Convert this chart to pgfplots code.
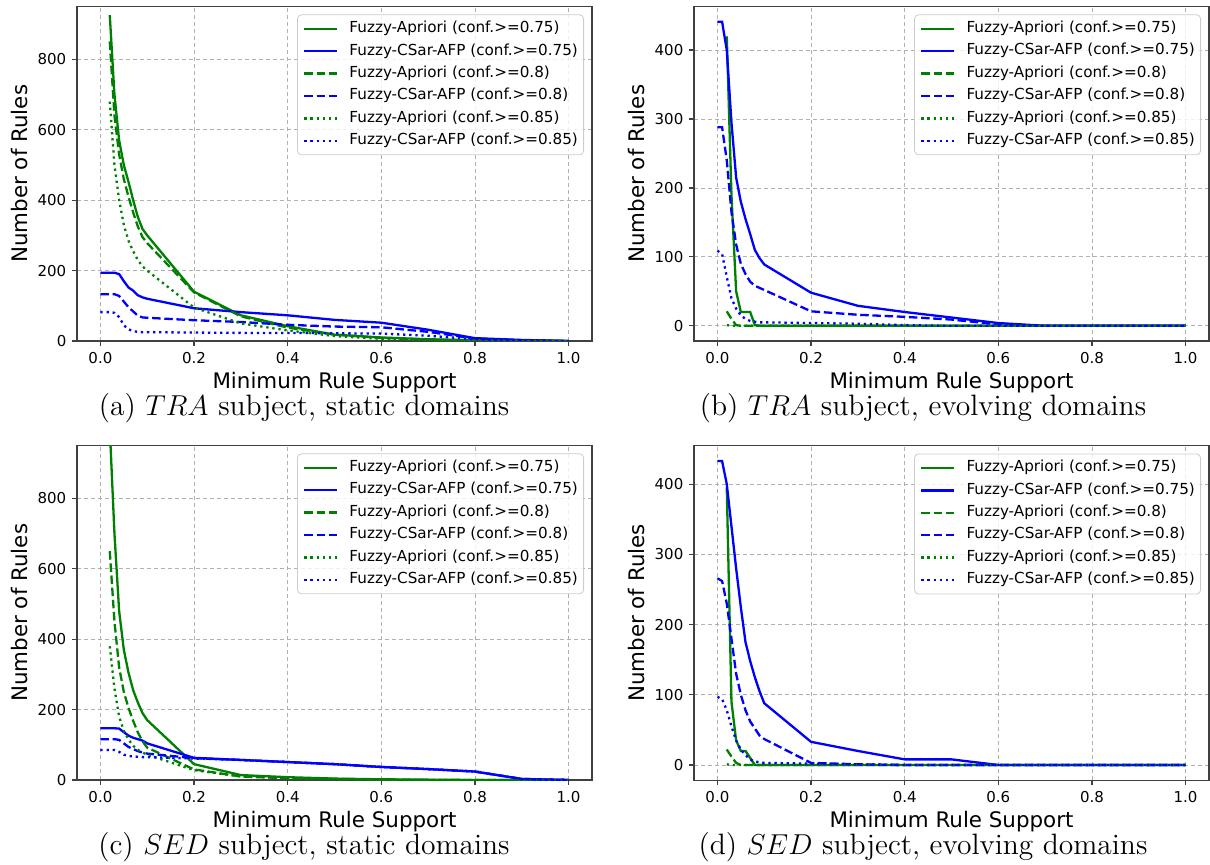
\documentclass[border=0pt]{standalone}
\usepackage{fontspec}
\usepackage{pgfplots}
\pgfplotsset{compat=1.18}
\newfontfamily\dejavu{DejaVu Sans}
\definecolor{mgreen}{HTML}{008000}
\definecolor{mblue}{HTML}{0000FF}
\definecolor{mgrid}{HTML}{B0B0B0}
\newcommand\tickfont{\dejavu\fontsize{7.5pt}{9pt}\selectfont}
\newcommand\legfont{\dejavu\fontsize{7.6pt}{9pt}\selectfont}
\newcommand\labfont{\dejavu\fontsize{10.7pt}{13pt}\selectfont}
\newcommand\capfont{\fontsize{14.75pt}{17pt}\selectfont}
\pgfplotsset{
  legend image code/.code={\draw[#1] (0pt,0pt) -- (16.5pt,0pt);},
  myax/.style={
    scale only axis, width=257.5pt, height=167.2pt,
    xmin=-0.05, xmax=1.05,
    xtick={0,0.2,0.4,0.6,0.8,1.0},
    /pgf/number format/assume math mode=true,
    grid=major,
    major grid style={color=mgrid, line width=0.4pt, dash pattern=on 2.2pt off 1.3pt},
    axis line style={black!75, line width=0.6pt},
    tick align=outside, major tick length=2.6pt,
    every tick/.style={black!75, line width=0.6pt},
    xtick pos=lower, ytick pos=left,
    x tick label style={font=\tickfont, inner sep=2.65pt, /pgf/number format/fixed, /pgf/number format/fixed zerofill, /pgf/number format/precision=1},
    y tick label style={font=\tickfont, inner sep=2.55pt},
    xlabel={Minimum Rule Support}, ylabel={Number of Rules},
    label style={font=\labfont},
    xlabel style={at={(axis description cs:0.5,0)}, anchor=base, yshift=-23.8pt},
    ylabel style={at={(axis description cs:-0.1107,0.5)}, anchor=center},
    legend cell align=left,
    legend style={at={(1,1)}, anchor=north east, xshift=-4pt, yshift=-3.9pt,
      draw=black!20, fill=white, fill opacity=0.8, text opacity=1, rounded corners=2pt,
      font=\legfont, inner xsep=2.85pt, inner ysep=3.2pt, row sep=3.6pt,
      nodes={inner sep=0pt, text height=5.7pt, text depth=1.9pt},
      /tikz/every odd column/.append style={column sep=5.5pt}},
    every axis plot/.append style={line width=1.15pt},
  },
  gs/.style={mgreen, solid},
  bs/.style={mblue, solid},
  gd/.style={mgreen, dash pattern=on 4.25pt off 1.84pt},
  bd/.style={mblue, dash pattern=on 4.25pt off 1.84pt},
  go/.style={mgreen, dash pattern=on 1.15pt off 1.9pt},
  bo/.style={mblue, dash pattern=on 1.15pt off 1.9pt},
}
\begin{document}
\begin{tikzpicture}
\useasboundingbox (0,0) rectangle (605pt,-432.5pt);
% (a)
\begin{axis}[myax, at={(38.5pt,-170.5pt)}, anchor=south west, ymin=0, ymax=950, ytick={0,200,400,600,800}]
\addplot[gs] coordinates {(0.02,926)(0.03,700)(0.04,570)(0.05,500)(0.06,452)(0.07,400)(0.08,352)(0.09,318)(0.1,300)(0.2,140)(0.3,73)(0.4,42)(0.5,18)(0.6,10)(0.7,5)(0.8,2)(0.9,1)(1.0,0)};
\addplot[bs] coordinates {(0,194)(0.01,194)(0.02,194)(0.03,194)(0.04,190)(0.05,170)(0.06,152)(0.07,143)(0.08,130)(0.09,124)(0.1,120)(0.2,93)(0.3,82)(0.4,73)(0.5,60)(0.6,52)(0.7,32)(0.8,8)(0.9,3)(1.0,0)};
\addplot[gd] coordinates {(0.02,851)(0.03,640)(0.04,530)(0.05,460)(0.06,410)(0.07,365)(0.08,325)(0.09,295)(0.1,278)(0.2,138)(0.3,70)(0.4,38)(0.5,18)(0.6,9)(0.7,4)(0.8,2)(0.9,1)(1.0,0)};
\addplot[bd] coordinates {(0,133)(0.01,133)(0.02,133)(0.03,133)(0.04,128)(0.05,112)(0.06,96)(0.07,84)(0.08,72)(0.09,67)(0.1,66)(0.2,59)(0.3,54)(0.4,46)(0.5,41)(0.6,39)(0.7,26)(0.8,7)(0.9,2)(1.0,0)};
\addplot[go] coordinates {(0.02,680)(0.03,500)(0.04,400)(0.05,330)(0.06,285)(0.07,255)(0.08,230)(0.09,212)(0.1,200)(0.2,95)(0.3,50)(0.4,30)(0.5,14)(0.6,6)(0.7,3)(0.8,1)(0.9,0)(1.0,0)};
\addplot[bo] coordinates {(0,82)(0.01,82)(0.02,82)(0.03,80)(0.04,68)(0.05,45)(0.06,33)(0.07,28)(0.08,26)(0.09,25)(0.1,25)(0.2,24)(0.3,23)(0.4,23)(0.5,22)(0.6,21)(0.7,15)(0.8,5)(0.9,1)(1.0,0)};
\legend{Fuzzy-Apriori (conf.>=0.75),Fuzzy-CSar-AFP (conf.>=0.75),Fuzzy-Apriori (conf.>=0.8),Fuzzy-CSar-AFP (conf.>=0.8),Fuzzy-Apriori (conf.>=0.85),Fuzzy-CSar-AFP (conf.>=0.85)}
\end{axis}
% (b)
\begin{axis}[myax, at={(347pt,-170.5pt)}, anchor=south west, ymin=-22.05, ymax=463.05, ytick={0,100,200,300,400}]
\addplot[gs] coordinates {(0.02,420)(0.03,190)(0.04,50)(0.05,20)(0.06,20)(0.07,20)(0.08,1)(0.09,0)(0.1,0)(0.2,0)(0.3,0)(0.4,0)(0.5,0)(0.6,0)(0.7,0)(0.8,0)(0.9,0)(1.0,0)};
\addplot[bs] coordinates {(0,441)(0.01,441)(0.02,400)(0.03,295)(0.04,215)(0.05,180)(0.06,155)(0.07,133)(0.08,110)(0.09,98)(0.1,89)(0.2,48)(0.3,29)(0.4,20)(0.5,12)(0.6,4)(0.7,0)(0.8,0)(0.9,0)(1.0,0)};
\addplot[gd] coordinates {(0.02,21)(0.03,10)(0.04,1)(0.05,0)(0.06,0)(0.07,0)(0.08,0)(0.09,0)(0.1,0)(0.2,0)(0.3,0)(0.4,0)(0.5,0)(0.6,0)(0.7,0)(0.8,0)(0.9,0)(1.0,0)};
\addplot[bd] coordinates {(0,288)(0.01,288)(0.02,240)(0.03,165)(0.04,118)(0.05,90)(0.06,75)(0.07,64)(0.08,58)(0.09,55)(0.1,52)(0.2,21)(0.3,16)(0.4,13)(0.5,9)(0.6,2)(0.7,0)(0.8,0)(0.9,0)(1.0,0)};
\addplot[go] coordinates {(0.02,1)(0.03,0)(0.04,0)(0.05,0)(0.06,0)(0.07,0)(0.08,0)(0.09,0)(0.1,0)(0.2,0)(0.3,0)(0.4,0)(0.5,0)(0.6,0)(0.7,0)(0.8,0)(0.9,0)(1.0,0)};
\addplot[bo] coordinates {(0,109)(0.01,104)(0.02,71)(0.03,40)(0.04,25)(0.05,15)(0.06,10)(0.07,7)(0.08,6)(0.09,5)(0.1,5)(0.2,4)(0.3,3)(0.4,1)(0.5,0)(0.6,0)(0.7,0)(0.8,0)(0.9,0)(1.0,0)};
\legend{Fuzzy-Apriori (conf.>=0.75),Fuzzy-CSar-AFP (conf.>=0.75),Fuzzy-Apriori (conf.>=0.8),Fuzzy-CSar-AFP (conf.>=0.8),Fuzzy-Apriori (conf.>=0.85),Fuzzy-CSar-AFP (conf.>=0.85)}
\end{axis}
% (c)
\begin{axis}[myax, at={(38.5pt,-390pt)}, anchor=south west, ymin=0, ymax=950, ytick={0,200,400,600,800}]
\addplot[gs] coordinates {(0.02,1000)(0.03,700)(0.04,480)(0.05,370)(0.06,305)(0.07,255)(0.08,220)(0.09,190)(0.1,170)(0.2,45)(0.3,14)(0.4,8)(0.5,4)(0.6,2)(0.7,1)(0.8,0)(0.9,0)(1.0,0)};
\addplot[bs] coordinates {(0,147)(0.01,147)(0.02,147)(0.03,147)(0.04,146)(0.05,136)(0.06,126)(0.07,120)(0.08,116)(0.09,112)(0.1,104)(0.2,63)(0.3,57)(0.4,51)(0.5,45)(0.6,37)(0.7,31)(0.8,24)(0.9,3)(1.0,0)};
\addplot[gd] coordinates {(0.02,650)(0.03,450)(0.04,320)(0.05,250)(0.06,205)(0.07,168)(0.08,135)(0.09,110)(0.1,92)(0.2,30)(0.3,10)(0.4,5)(0.5,3)(0.6,1)(0.7,0)(0.8,0)(0.9,0)(1.0,0)};
\addplot[bd] coordinates {(0,116)(0.01,116)(0.02,116)(0.03,116)(0.04,114)(0.05,104)(0.06,94)(0.07,88)(0.08,82)(0.09,78)(0.1,75)(0.2,62)(0.3,57)(0.4,51)(0.5,45)(0.6,37)(0.7,31)(0.8,24)(0.9,3)(1.0,0)};
\addplot[go] coordinates {(0.02,380)(0.03,260)(0.04,180)(0.05,140)(0.06,115)(0.07,97)(0.08,86)(0.09,78)(0.1,72)(0.2,28)(0.3,10)(0.4,5)(0.5,3)(0.6,1)(0.7,0)(0.8,0)(0.9,0)(1.0,0)};
\addplot[bo] coordinates {(0,85)(0.01,85)(0.02,85)(0.03,85)(0.04,80)(0.05,72)(0.06,68)(0.07,67)(0.08,66)(0.09,65)(0.1,65)(0.2,61)(0.3,57)(0.4,51)(0.5,45)(0.6,37)(0.7,31)(0.8,24)(0.9,3)(1.0,0)};
\legend{Fuzzy-Apriori (conf.>=0.75),Fuzzy-CSar-AFP (conf.>=0.75),Fuzzy-Apriori (conf.>=0.8),Fuzzy-CSar-AFP (conf.>=0.8),Fuzzy-Apriori (conf.>=0.85),Fuzzy-CSar-AFP (conf.>=0.85)}
\end{axis}
% (d)
\begin{axis}[myax, at={(347pt,-390.1pt)}, anchor=south west, ymin=-21.65, ymax=454.65, ytick={0,100,200,300,400}]
\addplot[gs] coordinates {(0.02,395)(0.03,90)(0.04,35)(0.05,20)(0.06,20)(0.07,10)(0.08,0)(0.09,0)(0.1,0)(0.2,0)(0.3,0)(0.4,0)(0.5,0)(0.6,0)(0.7,0)(0.8,0)(0.9,0)(1.0,0)};
\addplot[bs] coordinates {(0,433)(0.01,433)(0.02,400)(0.03,340)(0.04,280)(0.05,225)(0.06,175)(0.07,148)(0.08,125)(0.09,105)(0.1,88)(0.2,33)(0.3,20)(0.4,8)(0.5,8)(0.6,0)(0.7,0)(0.8,0)(0.9,0)(1.0,0)};
\addplot[gd] coordinates {(0.02,22)(0.03,12)(0.04,3)(0.05,0)(0.06,0)(0.07,0)(0.08,0)(0.09,0)(0.1,0)(0.2,0)(0.3,0)(0.4,0)(0.5,0)(0.6,0)(0.7,0)(0.8,0)(0.9,0)(1.0,0)};
\addplot[bd] coordinates {(0,266)(0.01,262)(0.02,230)(0.03,180)(0.04,130)(0.05,100)(0.06,78)(0.07,62)(0.08,52)(0.09,42)(0.1,37)(0.2,3)(0.3,1)(0.4,0)(0.5,0)(0.6,0)(0.7,0)(0.8,0)(0.9,0)(1.0,0)};
\addplot[go] coordinates {(0.02,1)(0.03,0)(0.04,0)(0.05,0)(0.06,0)(0.07,0)(0.08,0)(0.09,0)(0.1,0)(0.2,0)(0.3,0)(0.4,0)(0.5,0)(0.6,0)(0.7,0)(0.8,0)(0.9,0)(1.0,0)};
\addplot[bo] coordinates {(0,97)(0.01,94)(0.02,78)(0.03,55)(0.04,35)(0.05,22)(0.06,14)(0.07,8)(0.08,5)(0.09,4)(0.1,3)(0.2,2)(0.3,1)(0.4,0)(0.5,0)(0.6,0)(0.7,0)(0.8,0)(0.9,0)(1.0,0)};
\legend{Fuzzy-Apriori (conf.>=0.75),Fuzzy-CSar-AFP (conf.>=0.75),Fuzzy-Apriori (conf.>=0.8),Fuzzy-CSar-AFP (conf.>=0.8),Fuzzy-Apriori (conf.>=0.85),Fuzzy-CSar-AFP (conf.>=0.85)}
\end{axis}
\node[font=\capfont, anchor=base] at (152pt,-207.8pt) {(a) $TRA$ subject, static domains};
\node[font=\capfont, anchor=base] at (461.5pt,-207.8pt) {(b) $TRA$ subject, evolving domains};
\node[font=\capfont, anchor=base] at (152pt,-427.3pt) {(c) $SED$ subject, static domains};
\node[font=\capfont, anchor=base] at (461.5pt,-427.3pt) {(d) $SED$ subject, evolving domains};
\end{tikzpicture}
\end{document}
